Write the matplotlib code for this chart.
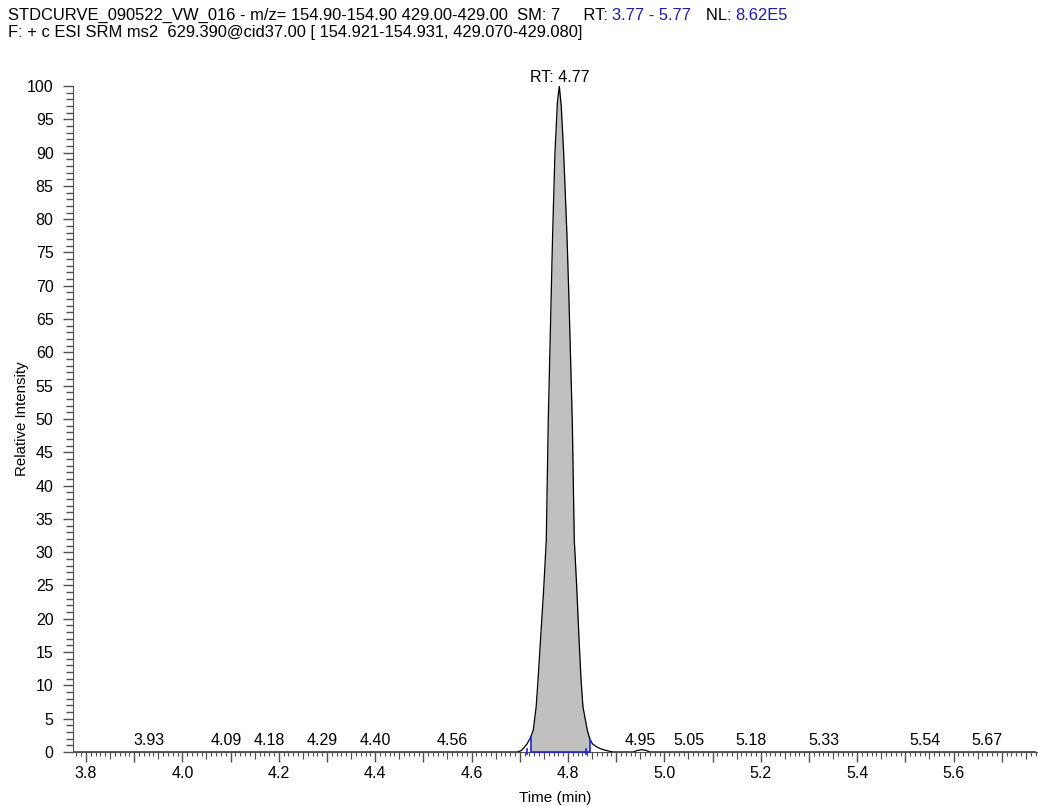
import numpy as np
import matplotlib
matplotlib.use('Agg')
import matplotlib.pyplot as plt
from matplotlib.ticker import MultipleLocator, FuncFormatter

plt.rcParams['font.family'] = ['Liberation Sans', 'DejaVu Sans']

# ========== Datos ==========
# Cromatograma SRM (tiempo en min, intensidad relativa %)
time_pts = [3.77, 4.50, 4.695, 4.703, 4.708, 4.715, 4.7225, 4.728, 4.734, 4.738,
            4.743, 4.750, 4.755, 4.759, 4.765, 4.768, 4.773, 4.778, 4.782, 4.786,
            4.791, 4.798, 4.802, 4.809, 4.813, 4.818, 4.823, 4.827, 4.831, 4.840,
            4.845, 4.851, 4.859, 4.867, 4.878, 4.888, 4.894, 4.935, 4.945, 4.953,
            4.961, 4.970, 5.20, 5.77]
intensity = [0.0, 0.0, 0.0, 0.2, 0.6, 1.2, 2.2, 3.3, 6.8, 11.0,
             16.8, 25.0, 31.9, 49.5, 68.0, 77.4, 90.0, 97.5, 100.0, 97.0,
             90.0, 77.4, 68.0, 49.5, 31.9, 25.0, 16.8, 11.0, 6.8, 3.3,
             2.0, 1.2, 0.8, 0.5, 0.25, 0.08, 0.0, 0.0, 0.25, 0.35,
             0.25, 0.0, 0.0, 0.0]

# Limites de integracion del pico
int_start, int_end = 4.7225, 4.845
int_marks = [4.7156, 4.8381]

# Etiquetas de picos
peak_rt = [3.93, 4.09, 4.18, 4.29, 4.40, 4.56, 4.95, 5.05, 5.18, 5.33, 5.54, 5.67]
peak_text = ['3.93', '4.09', '4.18', '4.29', '4.40', '4.56', '4.95', '5.05', '5.18', '5.33', '5.54', '5.67']
main_rt = 4.782
main_label = 'RT: 4.77'

title1 = [('STDCURVE_090522_VW_016 - m/z= 154.90-154.90 429.00-429.00  SM: 7     RT: ', 'black'),
          ('3.77 - 5.77', '#1c1ca8'),
          ('   NL: ', 'black'),
          ('8.62E5', '#1c1ca8')]
title2 = 'F: + c ESI SRM ms2  629.390@cid37.00 [ 154.921-154.931, 429.070-429.080]'

# ========== Grafico ==========
t = np.array(time_pts)
y = np.array(intensity)
tick_col = '#505050'
fs_tick = 11.5
fs_title = 11.9

fig = plt.figure(figsize=(10.38, 8.06), dpi=100)
ax = fig.add_axes([0.0703, 0.067, 0.9287, 0.8263])

mask = (t >= int_start) & (t <= int_end)
ax.fill_between(t[mask], 0, y[mask], color='#c0c0c0', lw=0)
ax.plot(t, y, color='black', lw=0.9)

# linea base y limites en azul
y_start = y[time_pts.index(int_start)]
y_end = y[time_pts.index(int_end)]
ax.plot([int_start, int_start, int_end, int_end], [y_start, 0.05, 0.05, y_end],
        color='#2020e0', lw=1.2, zorder=5, clip_on=False)
for m in int_marks:
    ax.plot([m, m], [-0.3, 0.5], color='#2020e0', lw=1.2, clip_on=False, zorder=5)

for rt, s in zip(peak_rt, peak_text):
    ax.annotate(s, (rt, 0), xytext=(0, 3), textcoords='offset points',
                ha='center', va='bottom', fontsize=fs_tick)
ax.annotate(main_label, (main_rt, 100), xytext=(0, 1), textcoords='offset points',
            ha='center', va='bottom', fontsize=fs_tick, annotation_clip=False)

ax.set_xlim(3.773, 5.773)
ax.set_ylim(0, 100)
for sp in ['top', 'right']:
    ax.spines[sp].set_visible(False)
ax.spines['left'].set_color(tick_col)
ax.spines['bottom'].set_color(tick_col)

ax.xaxis.set_major_locator(MultipleLocator(0.1))
ax.xaxis.set_minor_locator(MultipleLocator(0.01))
ax.xaxis.set_major_formatter(FuncFormatter(lambda v, p: '%.1f' % v if abs(v * 5 - round(v * 5)) < 1e-6 else ''))
ax.yaxis.set_major_locator(MultipleLocator(5))
ax.yaxis.set_minor_locator(MultipleLocator(1))
ax.tick_params(axis='x', which='major', length=7, width=1, color=tick_col, labelsize=fs_tick, pad=3)
ax.tick_params(axis='x', which='minor', length=3, width=0.8, color=tick_col)
ax.tick_params(axis='y', which='major', length=7.5, width=1, color=tick_col, labelsize=fs_tick, pad=6.5)
ax.tick_params(axis='y', which='minor', length=5, width=1, color=tick_col)

# marcas intermedias cada 0.05
sec = ax.secondary_xaxis('bottom')
sec.spines['bottom'].set_visible(False)
sec.set_xticks(np.arange(3.85, 5.8, 0.1))
sec.tick_params(length=5, width=0.8, color=tick_col, labelbottom=False)

ax.set_xlabel('Time (min)', fontsize=11, labelpad=7.5)
ax.set_ylabel('Relative Intensity', fontsize=10.8)
ax.yaxis.set_label_coords(-0.046, 0.5)

# titulo en dos lineas con partes en azul
prev = fig.text(8 / 1038, 1 - 20 / 806, title1[0][0], fontsize=fs_title, color=title1[0][1], va='baseline')
for s, c in title1[1:]:
    prev = ax.annotate(s, xy=(1, 0), xycoords=prev, va='bottom', ha='left',
                       fontsize=fs_title, color=c, annotation_clip=False)
fig.text(8 / 1038, 1 - 37 / 806, title2, fontsize=fs_title, va='baseline')

fig.savefig('out.png', dpi=100)
